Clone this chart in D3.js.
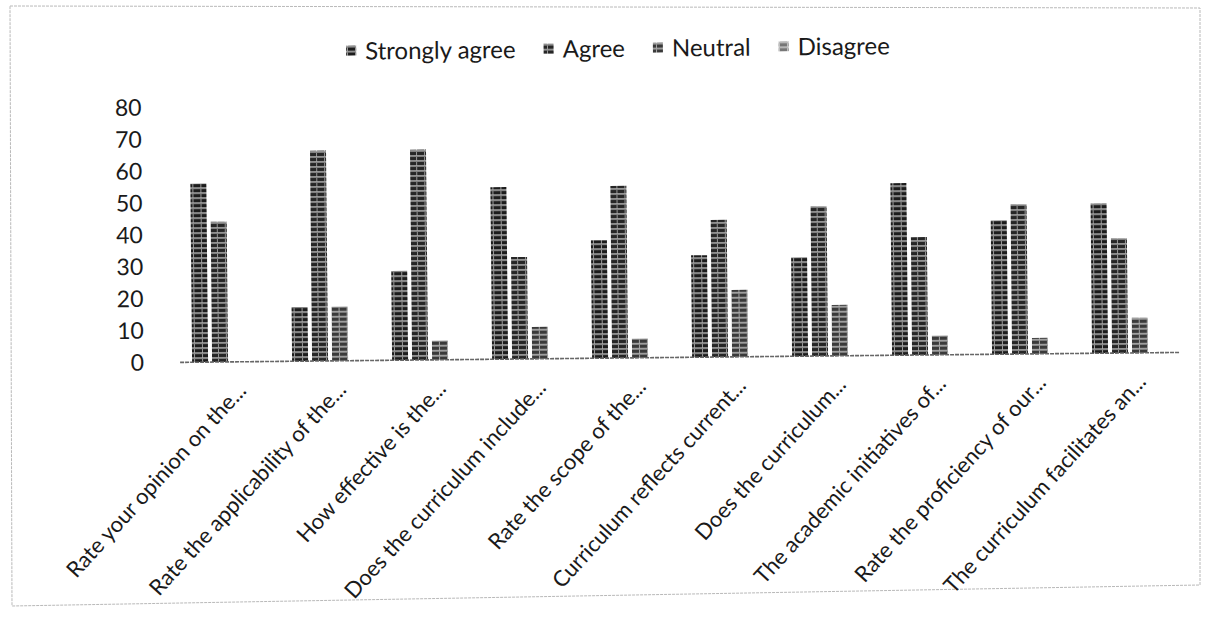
<!DOCTYPE html>
<html lang="en">
<head>
  <meta charset="UTF-8">
  <title>Curriculum survey</title>
  <script src="https://d3js.org/d3.v7.min.js"></script>
  <style>
    body { margin: 0; background: #fff; }
    text { font-family: Lato, "Open Sans", sans-serif; fill: #1a1a1a; }
  </style>
</head>
<body>
  <div id="root"></div>
  <script>
    const categories = [
      'Rate your opinion on the...',
      'Rate the applicability of the...',
      'How effective is the...',
      'Does the curriculum include...',
      'Rate the scope of the...',
      'Curriculum reflects current...',
      'Does the curriculum...',
      'The academic initiatives of...',
      'Rate the proficiency of our...',
      'The curriculum facilitates an...'
    ]
    const seriesNames = ['Strongly agree', 'Agree', 'Neutral', 'Disagree']
    const stronglyAgree = [56, 17, 28, 54, 37, 32, 31, 54, 42, 47]
    const agree         = [44, 66, 66, 32, 54, 43, 47, 37, 47, 36]
    const neutral       = [0, 17, 6, 10, 6, 21, 16, 6, 5, 11]
    const disagree      = [0, 0, 0, 0, 0, 0, 0, 0, 0, 0]
    const yTicks = [0, 10, 20, 30, 40, 50, 60, 70, 80]

    const seriesValues = [stronglyAgree, agree, neutral, disagree]
    const rows = categories.map((c, i) => ({
      cat: c,
      vals: seriesNames.map((s, j) => ({ key: s, value: seriesValues[j][i] }))
    }))

    const W = 1207, H = 629
    const svg = d3.select('#root')
      .append('svg')
      .attr('width', W)
      .attr('height', H)

    // scanned-looking hatch patterns, one per series
    const defs = svg.append('defs')
    const patternColors = [['#1c1c1c', '#e8e8e8'], ['#262626', '#dcdcdc'], ['#3a3a3a', '#e6e6e6'], ['#777', '#eee']]
    patternColors.forEach(([dark, light], i) => {
      const p = defs.append('pattern')
        .attr('id', 'pat' + i)
        .attr('width', 8)
        .attr('height', 5)
        .attr('patternUnits', 'userSpaceOnUse')
      p.append('rect').attr('width', 8).attr('height', 5).attr('fill', dark)
      p.append('rect').attr('y', 3.4).attr('width', 8).attr('height', 1.1).attr('fill', light)
      p.append('rect').attr('x', i === 2 ? 3 : 6).attr('y', 0).attr('width', 0.9).attr('height', 3.4).attr('fill', light).attr('opacity', 0.7)
    })

    // faint page border from the scan
    svg.append('polygon')
      .attr('points', '10,6 1200,8 1200,585 12,606')
      .attr('fill', 'none')
      .attr('stroke', '#b9b9b9')
      .attr('stroke-width', 1)
      .attr('stroke-dasharray', '3,1')

    const g = svg.append('g').attr('transform', 'rotate(-0.57, 620, 350)')

    const x = d3.scaleBand().domain(categories).range([180, 1180])
    const x1 = d3.scaleBand().domain(seriesNames).range([0, x.bandwidth()]).paddingOuter(0.5)
    const y = d3.scaleLinear().domain([0, 80]).range([358, 103])

    // y axis labels only
    const yAxis = g.append('g')
      .attr('transform', 'translate(180,0)')
      .call(d3.axisLeft(y).tickValues(yTicks).tickSize(0).tickPadding(36))
    yAxis.select('.domain').remove()
    yAxis.selectAll('text').style('font-size', '23px').attr('fill', '#1a1a1a')

    // bars
    const groups = g.selectAll('.cat')
      .data(rows)
      .join('g')
      .attr('transform', d => `translate(${x(d.cat)},0)`)
    groups.selectAll('rect')
      .data(d => d.vals.filter(v => v.value > 0))
      .join('rect')
      .attr('x', d => x1(d.key) + 2)
      .attr('width', x1.bandwidth() - 4)
      .attr('y', d => y(d.value))
      .attr('height', d => y(0) - y(d.value))
      .attr('fill', d => `url(#pat${seriesNames.indexOf(d.key)})`)

    // category axis line
    g.append('line')
      .attr('x1', 180).attr('x2', 1180)
      .attr('y1', y(0)).attr('y2', y(0))
      .attr('stroke', '#666')
      .attr('stroke-width', 1.6)
      .attr('stroke-dasharray', '4,1')

    // rotated category labels
    g.selectAll('.xlab')
      .data(categories)
      .join('text')
      .attr('class', 'xlab')
      .attr('text-anchor', 'end')
      .attr('transform', d => `translate(${x(d) + x.bandwidth() / 2 + 17},388) rotate(-47)`)
      .style('font-size', '22px')
      .text(d => d)

    // legend
    const legend = g.append('g')
    const items = legend.selectAll('g')
      .data(seriesNames)
      .join('g')
    items.append('text')
      .attr('y', 57)
      .style('font-size', '24px')
      .text(d => d)
    const widths = []
    items.select('text').each(function () { widths.push(this.getComputedTextLength()) })
    const markW = 10, markGap = 9, itemGap = 28
    const total = d3.sum(widths) + seriesNames.length * (markW + markGap) + itemGap * (seriesNames.length - 1)
    let cx = 621 - total / 2
    items.each(function (d, i) {
      const it = d3.select(this)
      it.insert('rect', 'text')
        .attr('x', cx).attr('y', 43)
        .attr('width', markW).attr('height', markW)
        .attr('fill', `url(#pat${i})`)
      it.select('text').attr('x', cx + markW + markGap)
      cx += markW + markGap + widths[i] + itemGap
    })
  </script>
</body>
</html>
